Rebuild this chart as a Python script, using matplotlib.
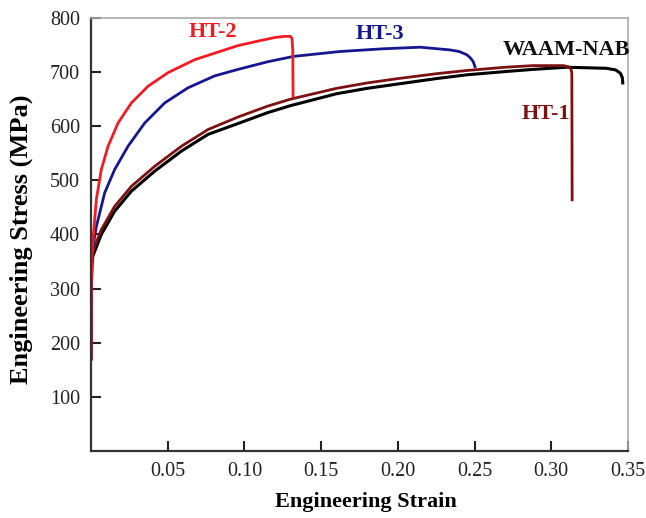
import matplotlib
matplotlib.use("Agg")
import matplotlib.pyplot as plt

plt.rcParams['font.family'] = ['Liberation Serif', 'DejaVu Serif']

# strain / stress (MPa)
waam_strain = [0.0, 0.0002, 0.0006, 0.0012, 0.0024, 0.0067, 0.0154, 0.0263, 0.0415, 0.0589,
               0.0763, 0.0958, 0.115, 0.13, 0.16, 0.18, 0.20, 0.225, 0.245, 0.27, 0.288,
               0.31, 0.336, 0.342, 0.345, 0.3463, 0.3466]
waam_stress = [170, 300, 345, 360, 369, 400, 443, 480, 517, 554,
               585, 605, 625, 638, 660, 670, 678, 688, 695, 701, 705,
               709, 707, 704, 698, 690, 680]

ht1_strain = [0.0, 0.0002, 0.0006, 0.0012, 0.0024, 0.0067, 0.0154, 0.0263, 0.0415, 0.0589,
              0.0763, 0.0958, 0.115, 0.13, 0.16, 0.18, 0.20, 0.225, 0.245, 0.27, 0.288,
              0.308, 0.311, 0.3128, 0.3134, 0.3136]
ht1_stress = [170, 300, 350, 366, 378, 409, 452, 489, 526, 563,
              594, 617, 637, 650, 670, 680, 688, 697, 703, 709, 712,
              712, 710, 706, 698, 464]

ht2_strain = [0.0, 0.0002, 0.0006, 0.0013, 0.0035, 0.0067, 0.0111, 0.0176, 0.0263, 0.0372,
              0.0502, 0.0676, 0.085, 0.0958, 0.110, 0.120, 0.126, 0.130, 0.1310, 0.1315,
              0.1317]
ht2_stress = [170, 300, 360, 391, 465, 520, 563, 606, 643, 674,
              699, 723, 739, 749, 758, 764, 766, 766, 762, 740,
              655]

ht3_strain = [0.0, 0.0002, 0.0006, 0.0013, 0.0035, 0.0089, 0.0154, 0.0241, 0.035, 0.048,
              0.0632, 0.0806, 0.0958, 0.115, 0.132, 0.162, 0.19, 0.2145, 0.234, 0.240,
              0.245, 0.247, 0.249, 0.2503]
ht3_stress = [170, 300, 355, 378, 415, 477, 520, 563, 606, 643,
              671, 693, 705, 719, 729, 738, 743, 746, 741, 738,
              732, 727, 720, 710]

fig = plt.figure(figsize=(6.46, 5.18), dpi=100)
ax = fig.add_axes([0.1409, 0.1293, 0.8312, 0.836])

ax.plot(waam_strain, waam_stress, color='black', lw=2.2)
ax.plot(ht1_strain, ht1_stress, color='#7d1111', lw=2.0)
ax.plot(ht3_strain, ht3_stress, color='#16168f', lw=2.0)
ax.plot(ht2_strain, ht2_stress, color='#f01c22', lw=2.0)

lab = dict(fontsize=16, fontweight='bold', ha='center', va='center')
ax.text(0.0795, 774, 'HT-2', color='#f01c22', **lab)
ax.text(0.188, 770, 'HT-3', color='#16168f', **lab)
ax.text(0.3097, 741, 'WAAM-NAB', color='#111111', **lab)
ax.text(0.2966, 623, 'HT-1', color='#7d1111', **lab)

ax.set_xlim(0, 0.35)
ax.set_ylim(0, 800)
ax.set_xticks([0.05, 0.10, 0.15, 0.20, 0.25, 0.30, 0.35])
ax.set_xticklabels(['0.05', '0.10', '0.15', '0.20', '0.25', '0.30', '0.35'])
ax.set_yticks([100, 200, 300, 400, 500, 600, 700, 800])
ax.tick_params(direction='in', length=7, width=1.5, labelsize=14.5, colors='#222222', pad=8)

for s in ['left', 'bottom']:
    ax.spines[s].set_color('#333333')
    ax.spines[s].set_linewidth(1.6)
for s in ['top', 'right']:
    ax.spines[s].set_color('#aaaaaa')
    ax.spines[s].set_linewidth(1.2)

ax.set_xlabel('Engineering Strain', fontsize=16, fontweight='bold', va='center')
ax.set_ylabel('Engineering Stress (MPa)', fontsize=19, fontweight='bold', va='center')
ax.xaxis.set_label_coords(0.512, -0.118)
ax.yaxis.set_label_coords(-0.130, 0.488)

fig.savefig('out.png', dpi=100)
